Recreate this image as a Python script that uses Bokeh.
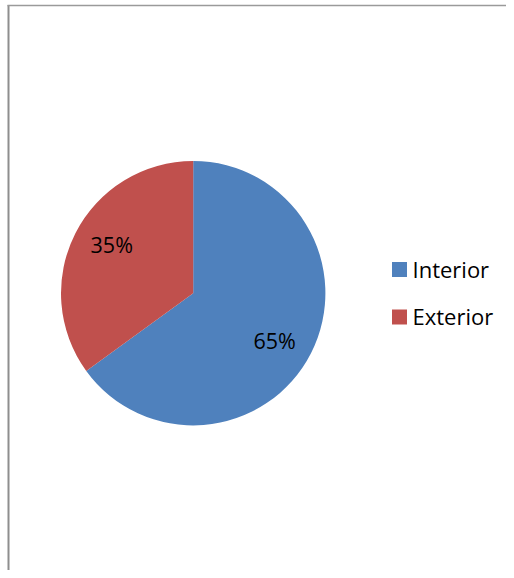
import math
from bokeh.plotting import figure
from bokeh.models import Range1d, ColumnDataSource
from bokeh.core.properties import value
from bokeh.embed import file_html
from bokeh.resources import INLINE

categories = ["Interior", "Exterior"]
shares = [65, 35]
colors = ["#4F81BD", "#C0504D"]

W, H = 506, 570
p = figure(width=W, height=H, x_range=Range1d(0, W), y_range=Range1d(0, H),
           output_backend="svg", toolbar_location=None, min_border=0,
           outline_line_color=None, background_fill_color="white",
           border_fill_color="white")
p.axis.visible = False
p.grid.visible = False

def sx(x):  # picture x -> data x
    return x

def sy(y):  # picture y -> data y
    return H - y

# frame (top and left edges only)
p.line(x=[sx(8), sx(8)], y=[0, sy(4.5)], line_color="#8E8E8E", line_width=2)
p.line(x=[sx(7), W], y=[sy(5), sy(5)], line_color="#9A9A9A", line_width=1.5)

cx, cy, r = sx(192.7), sy(292.7), 132.2
total = sum(shares)
starts, ends, lx, ly, labels = [], [], [], [], []
cum = 0
for s in shares:
    a0 = math.radians(90 - cum / total * 360)
    a1 = math.radians(90 - (cum + s) / total * 360)
    starts.append(a0)
    ends.append(a1)
    mid = (a0 + a1) / 2 - math.radians(3.5)
    lx.append(cx + 0.715 * r * math.cos(mid))
    ly.append(cy + 0.715 * r * math.sin(mid) + 1)
    labels.append(f"{round(s / total * 100)}%")
    cum += s

src = ColumnDataSource(dict(cat=categories, start=starts, end=ends, color=colors,
                            lx=lx, ly=ly, label=labels))
p.wedge(x=cx, y=cy, radius=r, start_angle="start", end_angle="end",
        direction="clock", fill_color="color", line_color=None, source=src)
p.text(x="lx", y="ly", text="label", source=src, text_align="center",
       text_baseline="middle", text_font=value("Open Sans"),
       text_font_size="21.5px", text_color="#000000")

# legend
leg_x = sx(399)
leg_y = [sy(269), sy(316.5)]
p.rect(x=[leg_x] * 2, y=leg_y, width=15, height=15, fill_color=colors,
       line_color=None)
p.text(x=[leg_x + 13] * 2, y=[v + 1 for v in leg_y], text=categories,
       text_align="left", text_baseline="middle",
       text_font=value("Open Sans"), text_font_size="22px",
       text_color="#000000")

open("out.html", "w").write(file_html(p, INLINE))
